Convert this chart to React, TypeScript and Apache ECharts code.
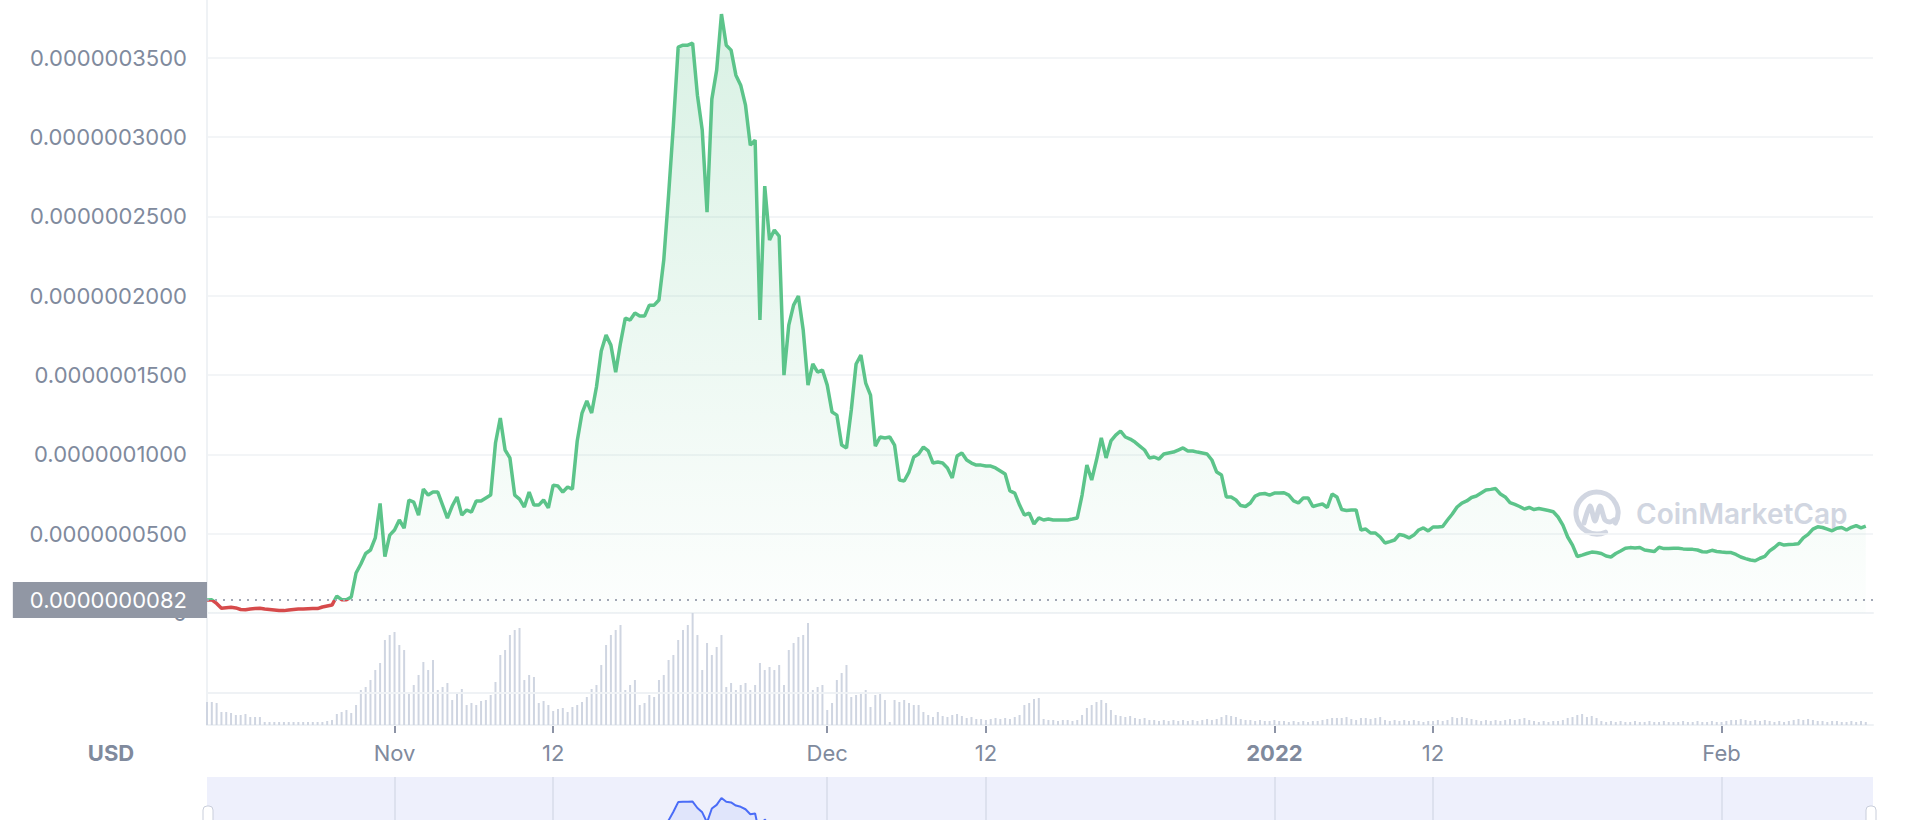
import React, { useEffect, useRef } from "react";
import * as echarts from "echarts";

// Sampling of the series: one point every 8 hours from the start time (UTC)
const START_TS = Date.UTC(2021, 9, 19, 0);
const STEP_HOURS = 8;
const AXIS_DAYS = 115.5;

// Price in units of 1e-10 USD (0.0000003500 USD -> 3500)
const priceE10 = [
  82, 83, 60, 30, 33, 36, 32, 22, 20, 25,
  28, 30, 25, 22, 19, 16, 15, 19, 22, 25,
  25, 27, 28, 28, 38, 44, 50, 107, 84, 83,
  101, 252, 309, 375, 397, 473, 690, 355, 491, 523,
  586, 535, 712, 699, 617, 781, 743, 762, 762, 680,
  598, 674, 731, 617, 649, 636, 706, 706, 725, 743,
  1071, 1229, 1027, 977, 743, 718, 668, 762, 680, 680,
  712, 662, 806, 800, 762, 794, 781, 1084, 1260, 1336,
  1260, 1424, 1651, 1751, 1688, 1518, 1701, 1859, 1846, 1890,
  1871, 1871, 1940, 1940, 1972, 2224, 2633, 3074, 3566, 3578,
  3578, 3591, 3263, 3043, 2526, 3238, 3421, 3774, 3578, 3547,
  3389, 3326, 3200, 2948, 2980, 1846, 2690, 2350, 2413, 2375,
  1499, 1814, 1940, 1997, 1783, 1436, 1569, 1518, 1531, 1436,
  1266, 1247, 1058, 1040, 1279, 1569, 1625, 1449, 1373, 1052,
  1109, 1103, 1109, 1058, 838, 832, 888, 983, 1002, 1046,
  1021, 945, 951, 945, 914, 851, 989, 1008, 964, 945,
  932, 932, 926, 926, 914, 895, 876, 769, 756, 680,
  617, 630, 561, 599, 586, 592, 586, 586, 586, 586,
  592, 599, 743, 932, 838, 964, 1103, 977, 1084, 1121,
  1147, 1109, 1096, 1077, 1052, 1027, 977, 983, 970, 1002,
  1008, 1014, 1027, 1040, 1021, 1021, 1014, 1008, 1002, 964,
  888, 869, 731, 731, 712, 677, 671, 693, 737, 750,
  753, 743, 756, 756, 758, 743, 707, 693, 725, 725,
  671, 680, 687, 665, 750, 731, 652, 646, 649, 649,
  523, 529, 504, 504, 479, 441, 450, 460, 495, 488,
  473, 491, 523, 536, 517, 542, 542, 545, 586, 624,
  668, 693, 706, 728, 737, 756, 775, 779, 784, 750,
  731, 695, 684, 671, 655, 665, 652, 658, 652, 646,
  638, 605, 554, 479, 428, 356, 365, 375, 384, 381,
  375, 359, 353, 375, 391, 408, 412, 410, 413, 397,
  392, 387, 414, 406, 407, 408, 408, 404, 401, 401,
  397, 386, 385, 395, 388, 384, 382, 381, 369, 353,
  343, 334, 329, 345, 357, 391, 413, 439, 428, 431,
  433, 437, 473, 495, 529, 543, 539, 529, 518, 534,
  539, 523, 540, 551, 536, 548,
];

// Relative trading volume per 8-hour step
const volumes = [
  23, 23, 22, 13, 13, 12, 10, 10, 11, 8, 8, 8,
  3, 3, 3, 3, 3, 3, 3, 3, 3, 3, 3, 3, 3, 4, 5,
  11, 13, 15, 12, 20, 35, 38, 45, 55, 62, 85, 90, 93, 80, 75,
  33, 40, 50, 63, 55, 65, 35, 38, 42, 25, 32, 36, 20, 22, 20, 24, 25, 30,
  43, 70, 75, 90, 95, 97, 45, 50, 48, 22, 24, 20,
  14, 16, 17, 13, 18, 20, 23, 28, 36, 40, 60, 80, 90, 95, 100,
  35, 40, 45, 20, 22, 30, 28, 45, 50, 65, 70, 85, 95, 100, 112,
  90, 55, 82, 70, 78, 90, 38, 42, 35, 40, 42, 35, 40, 62, 55, 58, 55, 60, 40, 75, 82, 88, 90, 102,
  35, 38, 40, 15, 22, 45, 52, 60, 28, 30, 33, 35, 18, 30, 32, 25,
  3, 25, 23, 25, 22, 20, 20, 13, 10, 8, 13, 9, 8, 10, 11, 9, 7, 8, 6, 6, 5, 6, 7, 6, 7, 6, 8, 10,
  20, 22, 26, 27, 6, 5, 5, 4, 5, 5, 4, 5,
  10, 17, 20, 23, 25, 22, 15, 10, 9, 8, 9, 7, 6, 7,
  5, 5, 4, 5, 4, 5, 4, 5, 4, 5, 4, 5, 6, 5, 6, 8, 10, 9, 8, 6,
  5, 5, 4, 5, 4, 4, 5, 4, 4, 3, 4, 3, 4, 3, 4, 4, 5, 6, 7, 7,
  7, 8, 6, 5, 7, 7, 6, 7, 8, 5, 4, 5, 4, 5, 4, 5, 4, 3, 4, 4,
  5, 4, 5, 8, 7, 8, 7, 6, 5, 4, 5, 4, 5, 4, 5, 6, 5, 6, 7, 5,
  4, 3, 4, 3, 4, 4, 5, 7, 8, 10, 11, 8, 9, 7, 4,
  3, 4, 3, 4, 3, 3, 4, 3, 3, 4, 3, 3, 4, 3, 3, 3, 4, 3, 3, 4,
  3, 3, 4, 3, 3, 4, 5, 5, 6, 5, 4, 5, 4, 5, 4, 3, 4, 3, 4, 5,
  6, 5, 6, 5, 4, 4, 3, 4, 4, 3, 3, 4, 3, 4, 3,
];

const BASE_PRICE_E10 = 82;
const BASE_LABEL = "0.0000000082";
const VOLUME_GRID_LEVEL = 32;

const xTickDates = ["2021-11-01", "2021-11-12", "2021-12-01", "2021-12-12", "2022-01-01", "2022-01-12", "2022-02-01"];
const xTickLabels = ["Nov", "12", "Dec", "12", "2022", "12", "Feb"];
const yInterval = 500;
const yMaxE10 = 3888;

const GREEN = "#5cc48a";
const RED = "#d64a4b";
const AXIS_TEXT = "#808a9d";
const GRID_LINE = "#eff2f5";
const FONT = "Inter, 'Noto Sans', sans-serif";
const DAY_MS = 24 * 3600 * 1000;

export default function App() {
  const ref = useRef<HTMLDivElement>(null);

  useEffect(() => {
    if (!ref.current) return;
    const chart = echarts.init(ref.current, undefined, { renderer: "svg" });
    const stepMs = STEP_HOURS * 3600 * 1000;
    const axisMin = START_TS;
    const axisMax = START_TS + AXIS_DAYS * DAY_MS;
    const priceData = priceE10.map((v, i) => [START_TS + i * stepMs, v]);
    const volData = volumes.map((v, i) => [START_TS + i * stepMs, v]);
    const tickTs = xTickDates.map((d) => new Date(d + "T00:00:00Z").getTime());
    const xLabel = (val: number) => {
      const k = tickTs.findIndex((t) => Math.abs(t - val) < 3600e3);
      if (k < 0) return "";
      const s = xTickLabels[k];
      return s === "2022" ? "{b|" + s + "}" : s;
    };
    const volMax = Math.max(...volumes);
    const tickLines = tickTs.map((t) => ({ xAxis: t }));

    const hiddenX = (gridIndex: number) => ({
      type: "value", gridIndex, min: axisMin, max: axisMax,
      axisLine: { show: false }, axisTick: { show: false }, axisLabel: { show: false }, splitLine: { show: false },
    });
    const hiddenY = (gridIndex: number, max: number) => ({
      type: "value", gridIndex, min: 0, max,
      axisLine: { show: false }, axisTick: { show: false }, axisLabel: { show: false }, splitLine: { show: false },
    });

    chart.setOption({
      animation: false,
      textStyle: { fontFamily: FONT },
      grid: [
        { left: 207, right: 41, top: -4, height: 617, outerBoundsMode: "none" },
        { left: 207, right: 41, top: 613, height: 112, outerBoundsMode: "none" },
        { left: 207, right: 41, top: 777, height: 95, outerBoundsMode: "none", show: true, backgroundColor: "#eef0fc", borderWidth: 0 },
        { left: 207, right: 41, top: 726, height: 7, outerBoundsMode: "none" },
      ],
      visualMap: {
        type: "piecewise",
        show: false,
        seriesIndex: 0,
        dimension: 1,
        pieces: [
          { gte: 0, lt: BASE_PRICE_E10, color: RED },
          { gte: BASE_PRICE_E10, lte: 100000, color: GREEN },
        ],
      },
      xAxis: [
        {
          type: "value", gridIndex: 0, min: axisMin, max: axisMax,
          axisLine: { show: true, onZero: false, lineStyle: { color: GRID_LINE, width: 2 } },
          axisTick: { show: false }, axisLabel: { show: false }, splitLine: { show: false },
        },
        {
          type: "value", gridIndex: 1, min: axisMin, max: axisMax, interval: DAY_MS,
          axisLine: { show: true, onZero: false, lineStyle: { color: GRID_LINE, width: 2 } },
          axisTick: { show: false },
          axisLabel: {
            show: true, formatter: xLabel, color: AXIS_TEXT, fontSize: 22, fontFamily: FONT, margin: 17,
            showMinLabel: true, showMaxLabel: true, hideOverlap: false,
            rich: { b: { fontWeight: "bold", fontSize: 22, color: AXIS_TEXT, fontFamily: FONT } },
          },
          splitLine: { show: false },
        },
        hiddenX(2),
        hiddenX(3),
      ],
      yAxis: [
        {
          type: "value", gridIndex: 0, min: 0, max: yMaxE10, interval: yInterval,
          axisLine: { show: true, lineStyle: { color: GRID_LINE, width: 2 } },
          axisTick: { show: false },
          axisLabel: {
            color: AXIS_TEXT, fontSize: 22, fontFamily: FONT, margin: 20, showMaxLabel: false,
            formatter: (v: number) => (v === 0 ? "0" : (v * 1e-10).toFixed(10)),
          },
          splitLine: { show: true, lineStyle: { color: GRID_LINE, width: 1.5 } },
        },
        {
          type: "value", gridIndex: 1, min: 0, max: volMax,
          axisLine: { show: true, lineStyle: { color: GRID_LINE, width: 2 } },
          axisTick: { show: false }, axisLabel: { show: false }, splitLine: { show: false },
        },
        hiddenY(2, 4845),
        hiddenY(3, 1),
      ],
      series: [
        {
          type: "line", xAxisIndex: 0, yAxisIndex: 0, data: priceData,
          showSymbol: false, symbol: "none", z: 3,
          lineStyle: { width: 3.5 },
          areaStyle: {
            color: new echarts.graphic.LinearGradient(0, 0, 0, 1, [
              { offset: 0, color: "rgba(86,194,136,0.32)" },
              { offset: 1, color: "rgba(86,194,136,0.02)" },
            ]),
          },
          markLine: {
            silent: true, symbol: ["none", "none"],
            data: [{ yAxis: BASE_PRICE_E10 }],
            lineStyle: { type: [2, 6], color: "#a2a8b5", width: 2 },
            label: {
              show: true, position: "start", distance: 0, formatter: BASE_LABEL,
              color: "#ffffff", backgroundColor: "#9197a4", fontSize: 22, fontFamily: FONT,
              padding: [6, 20, 5, 17], lineHeight: 25,
            },
          },
        },
        {
          type: "bar", xAxisIndex: 1, yAxisIndex: 1, data: volData, barWidth: 2,
          itemStyle: { color: "#cfd5e1" },
          markLine: {
            silent: true, symbol: ["none", "none"],
            data: [{ yAxis: VOLUME_GRID_LEVEL }],
            lineStyle: { type: "solid", color: GRID_LINE, width: 2 },
            label: { show: false },
          },
        },
        {
          type: "line", xAxisIndex: 2, yAxisIndex: 2, data: priceData,
          showSymbol: false, symbol: "none",
          lineStyle: { width: 2, color: "#4a6cf7" },
          itemStyle: { color: "#4a6cf7" },
          areaStyle: { color: "rgba(74,108,247,0.12)" },
          markLine: {
            silent: true, symbol: ["none", "none"],
            data: tickLines,
            lineStyle: { type: "solid", color: "#dde1ee", width: 2 },
            label: { show: false },
          },
        },
        {
          type: "line", xAxisIndex: 3, yAxisIndex: 3, data: [],
          showSymbol: false, symbol: "none",
          markLine: {
            silent: true, symbol: ["none", "none"],
            data: tickLines,
            lineStyle: { type: "solid", color: "#8d94a6", width: 2 },
            label: { show: false },
          },
        },
      ],
      graphic: [
        {
          type: "text", x: 111, y: 753, z: 10,
          style: { text: "USD", fontSize: 22, fontWeight: "bold", fill: AXIS_TEXT, align: "center", verticalAlign: "middle", fontFamily: FONT },
        },
        {
          type: "group", x: 1597, y: 513, z: 1, silent: true,
          children: [
            {
              type: "arc",
              shape: { cx: 0, cy: 0, r: 21, startAngle: 1.15, endAngle: 0.5 + Math.PI * 2, clockwise: true },
              style: { stroke: "#d1d6e1", lineWidth: 5, fill: null, lineCap: "round" },
            },
            {
              type: "polyline",
              shape: { points: [[-13, 10], [-7, -7], [-2, 8], [3, -7], [8, 7], [13, 9], [17, 7]], smooth: 0.25 },
              style: { stroke: "#d1d6e1", lineWidth: 5, fill: null, lineCap: "round", lineJoin: "round" },
            },
          ],
        },
        {
          type: "text", x: 1636, y: 514, z: 1, silent: true,
          style: { text: "CoinMarketCap", fontSize: 28, fontWeight: 600, fill: "#d1d6e1", align: "left", verticalAlign: "middle", fontFamily: FONT },
        },
        {
          type: "rect", x: 203, y: 806, z: 10,
          shape: { width: 10, height: 22, r: 4 },
          style: { fill: "#ffffff", stroke: "#c9cedb", lineWidth: 1 },
        },
        {
          type: "rect", x: 1866, y: 806, z: 10,
          shape: { width: 10, height: 22, r: 4 },
          style: { fill: "#ffffff", stroke: "#c9cedb", lineWidth: 1 },
        },
      ],
    });

    return () => chart.dispose();
  }, []);

  return (
    <div
      ref={ref}
      style={{ position: "fixed", left: 0, top: 0, width: 1914, height: 820, background: "#ffffff" }}
    />
  );
}
